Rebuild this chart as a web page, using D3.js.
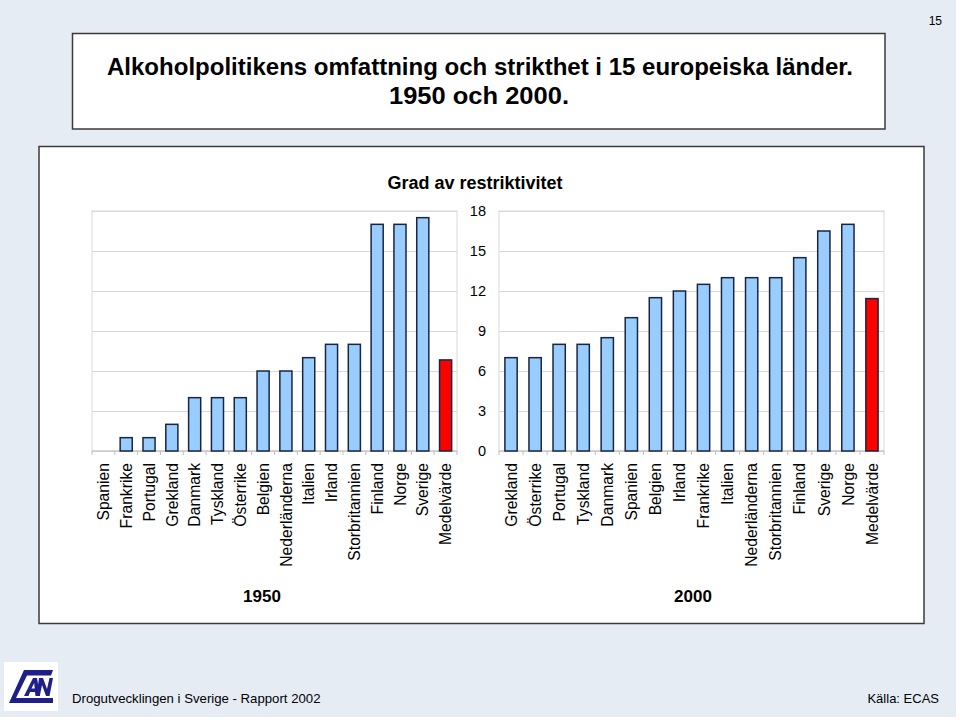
<!DOCTYPE html>
<html>
<head>
<meta charset="utf-8">
<script src="https://cdn.jsdelivr.net/npm/d3@7"></script>
<style>
  html, body { margin: 0; padding: 0; background: #ffffff; }
  svg { display: block; font-family: "Liberation Sans", Arial, sans-serif; }
</style>
</head>
<body>
<svg id="chart" width="960" height="720"></svg>
<script>
// ---- Data ----
const categories1950 = ["Spanien","Frankrike","Portugal","Grekland","Danmark","Tyskland","Österrike","Belgien","Nederländerna","Italien","Irland","Storbritannien","Finland","Norge","Sverige","Medelvärde"];
const values1950 = [0, 1, 1, 2, 4, 4, 4, 6, 6, 7, 8, 8, 17, 17, 17.5, 6.83];
const categories2000 = ["Grekland","Österrike","Portugal","Tyskland","Danmark","Spanien","Belgien","Irland","Frankrike","Italien","Nederländerna","Storbritannien","Finland","Sverige","Norge","Medelvärde"];
const values2000 = [7, 7, 8, 8, 8.5, 10, 11.5, 12, 12.5, 13, 13, 13, 14.5, 16.5, 17, 11.43];
const yTicks = [0, 3, 6, 9, 12, 15, 18];
const groupLabels = ["1950", "2000"];
const mainTitle = ["Alkoholpolitikens omfattning och strikthet i 15 europeiska länder.", "1950 och 2000."];
const chartTitle = "Grad av restriktivitet";
const footerLeft = "Drogutvecklingen i Sverige - Rapport 2002";
const footerRight = "Källa: ECAS";
const pageNumber = "15";

// ---- Drawing ----
const svg = d3.select("#chart");
const FONT = "'Liberation Sans', Arial, sans-serif";

// page background
svg.append("rect").attr("x", 0).attr("y", 0).attr("width", 956).attr("height", 717).attr("fill", "#e5ecf4");

// page number
svg.append("text").attr("x", 942).attr("y", 25).attr("text-anchor", "end")
  .attr("font-size", 12).attr("fill", "#000").text(pageNumber);

// title box
svg.append("rect").attr("x", 72.5).attr("y", 33.5).attr("width", 812.5).attr("height", 95.5)
  .attr("fill", "#fff").attr("stroke", "#3a3a3a").attr("stroke-width", 1.5);
svg.append("text").attr("x", 480).attr("y", 75).attr("text-anchor", "middle")
  .attr("font-size", 23).attr("font-weight", "bold").attr("fill", "#000").text(mainTitle[0])
  .attr("textLength", 746).attr("lengthAdjust", "spacingAndGlyphs");
svg.append("text").attr("x", 479).attr("y", 104).attr("text-anchor", "middle")
  .attr("font-size", 23).attr("font-weight", "bold").attr("fill", "#000").text(mainTitle[1])
  .attr("textLength", 180).attr("lengthAdjust", "spacingAndGlyphs");

// chart box
svg.append("rect").attr("x", 39).attr("y", 146.5).attr("width", 885).attr("height", 477)
  .attr("fill", "#fff").attr("stroke", "#3a3a3a").attr("stroke-width", 1.5);

// chart title
svg.append("text").attr("x", 475).attr("y", 189).attr("text-anchor", "middle")
  .attr("font-size", 18).attr("font-weight", "bold").attr("fill", "#000").text(chartTitle);

const yTop = 211, yBottom = 451;
const y = d3.scaleLinear().domain([0, 18]).range([yBottom, yTop]);

function drawPanel(cats, vals, x0, x1, padInner, groupLabel, labelX) {
  const g = svg.append("g");
  const x = d3.scaleBand().domain(cats).range([x0, x1]).paddingInner(padInner).paddingOuter(padInner / 2);

  // gridlines
  g.append("g").attr("transform", `translate(${x0},0)`)
    .call(d3.axisLeft(y).tickValues(yTicks).tickSize(-(x1 - x0)).tickFormat(""))
    .call(s => s.select(".domain").remove())
    .call(s => s.selectAll("line").attr("stroke", "#d9d9d9").attr("stroke-width", 1));

  // plot border
  g.append("rect").attr("x", x0).attr("y", yTop).attr("width", x1 - x0).attr("height", yBottom - yTop)
    .attr("fill", "none").attr("stroke", "#d9d9d9").attr("stroke-width", 1);

  // category ticks on baseline
  const step = x.step();
  const bounds = d3.range(cats.length + 1).map(i => x(cats[0]) - step * x.paddingOuter() + i * step);
  g.selectAll("line.ctick").data(bounds).enter().append("line")
    .attr("class", "ctick")
    .attr("x1", d => d).attr("x2", d => d)
    .attr("y1", yBottom).attr("y2", yBottom + 4)
    .attr("stroke", "#bfbfbf").attr("stroke-width", 1);
  g.append("line").attr("x1", x0).attr("x2", x1).attr("y1", yBottom).attr("y2", yBottom)
    .attr("stroke", "#bfbfbf").attr("stroke-width", 1);

  // bars
  g.selectAll("rect.bar").data(cats.map((c, i) => ({ c, v: vals[i], last: i === cats.length - 1 })))
    .enter().append("rect").attr("class", "bar")
    .attr("x", d => x(d.c))
    .attr("width", x.bandwidth())
    .attr("y", d => y(d.v))
    .attr("height", d => y(0) - y(d.v))
    .attr("fill", d => d.last ? "#ff0000" : "#99ccff")
    .attr("stroke", "#1a2640").attr("stroke-width", 1.5)
    .style("display", d => d.v > 0 ? null : "none");

  // category labels
  g.selectAll("text.cat").data(cats).enter().append("text").attr("class", "cat")
    .attr("transform", d => `translate(${x(d) + x.bandwidth() / 2 + 5.7},463) rotate(-90)`)
    .attr("text-anchor", "end")
    .attr("font-size", 15.7).attr("fill", "#000").text(d => d);

  // group label
  g.append("text").attr("x", labelX).attr("y", 602).attr("text-anchor", "middle")
    .attr("font-size", 17).attr("font-weight", "bold").attr("fill", "#000").text(groupLabel);
  return x;
}

drawPanel(categories1950, values1950, 92, 457, 0.47, groupLabels[0], 262);
drawPanel(categories2000, values2000, 499, 884, 0.49, groupLabels[1], 693);

// y axis labels (between panels)
svg.append("g").attr("transform", "translate(486,0)")
  .call(d3.axisLeft(y).tickValues(yTicks).tickSize(0).tickPadding(0))
  .call(s => s.select(".domain").remove())
  .call(s => s.selectAll("text").attr("font-size", 14.5).attr("font-family", FONT).attr("fill", "#000"));

// footer logo
svg.append("rect").attr("x", 4).attr("y", 662).attr("width", 54).attr("height", 49).attr("fill", "#fff");
const logo = svg.append("g").attr("fill", "#1f1f8a");
logo.append("path").attr("d", "M24,670 L53,670 L51,675.5 L27,675.5 L16,698 L53,698 L53,703 L9,703 Z");
logo.append("path").attr("d", "M24,696 L33,678 L37,678 L40,696 L35.5,696 L35,692 L30,692 L28.5,696 Z M31.5,688.5 L34.7,688.5 L34.2,683 Z");
logo.append("path").attr("d", "M39,678 L43,678 L47,689 L49.5,678 L53,678 L49.5,696 L46,696 L42,685 L39.8,696 L36.5,696 Z");

// footer texts
svg.append("text").attr("x", 72).attr("y", 703).attr("font-size", 13.2).attr("fill", "#000").text(footerLeft);
svg.append("text").attr("x", 939).attr("y", 703).attr("text-anchor", "end").attr("font-size", 13).attr("fill", "#000").text(footerRight);
</script>
</body>
</html>
